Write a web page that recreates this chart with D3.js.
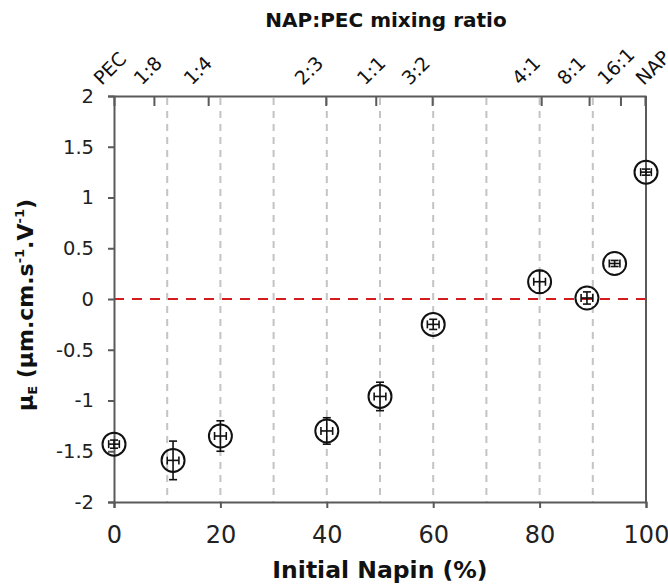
<!DOCTYPE html>
<head>
  <meta charset="utf-8">
  <title>Electrophoretic mobility vs initial napin</title>
  <style>
    body {
      margin: 0;
      padding: 0;
      background-color: #fff;
      font-family: 'DejaVu Sans', sans-serif;
    }

    .axis path, .axis line {
      stroke: #5a5a5a;
      stroke-width: 2;
    }

    .axis text {
      fill: #222;
      font-family: 'DejaVu Sans', sans-serif;
    }

    .grid line {
      stroke: #c4c4c4;
      stroke-width: 2;
      stroke-dasharray: 7 6;
    }

    .zero {
      stroke: #d41c1c;
      stroke-width: 2;
      stroke-dasharray: 10 8;
    }

    .title {
      font-weight: bold;
      fill: #111;
    }

    .ratio {
      font-size: 19px;
      fill: #111;
    }

    .err {
      stroke: #111;
      stroke-width: 1.6;
    }

    .dot {
      fill: none;
      stroke: #111;
      stroke-width: 2;
    }
  </style>
</head>
<body>
  <div id='vis'></div>

  <script src="https://cdnjs.cloudflare.com/ajax/libs/d3/7.8.5/d3.min.js"></script>
  <script>
    // measured points
    var napinPct = [0, 11.1, 20, 40, 50, 60, 80, 88.9, 94.1, 100];
    var mobility = [-1.43, -1.59, -1.35, -1.30, -0.96, -0.25, 0.17, 0.01, 0.35, 1.25];
    var mobilityErr = [0.04, 0.19, 0.15, 0.13, 0.14, 0.05, 0.11, 0.06, 0.03, 0.03];
    var napinErr = [1, 1.1, 1.1, 1.1, 1.1, 1.1, 1.1, 1.1, 1, 1];

    // top (mixing ratio) axis
    var ratioLabels = ['PEC', '1:8', '1:4', '2:3', '1:1', '3:2', '4:1', '8:1', '16:1', 'NAP'];
    var ratioTickAt = [0, 7.5, 17.7, 39.8, 49.2, 59.8, 80.3, 89.3, 95.2, 99.8];
    var ratioLabelAt = [-2.3, 5.2, 14.6, 35.5, 47.2, 55.6, 76.3, 84.8, 92.4, 99.6];

    var xTicks = [0, 20, 40, 60, 80, 100];
    var gridAt = [10, 20, 30, 40, 50, 60, 70, 80, 90];
    var yTicks = [-2, -1.5, -1, -0.5, 0, 0.5, 1, 1.5, 2];

    var width = 668,
        height = 585;

    var svg = d3.select('#vis').append('svg')
      .attr('width', width)
      .attr('height', height);

    var x = d3.scaleLinear().domain([0, 100]).range([114, 646]);
    var y = d3.scaleLinear().domain([-2, 2]).range([502, 96]);

    // grid
    svg.append('g')
      .attr('class', 'grid')
      .selectAll('line')
      .data(gridAt)
      .enter().append('line')
        .attr('x1', function(d) { return x(d); })
        .attr('x2', function(d) { return x(d); })
        .attr('y1', y(2) + 2)
        .attr('y2', y(-2));

    svg.append('line')
      .attr('class', 'zero')
      .attr('x1', x(0))
      .attr('x2', x(100))
      .attr('y1', y(0))
      .attr('y2', y(0));

    // axes
    var fmt = function(d) { return String(d); };

    svg.append('g')
      .attr('class', 'axis')
      .attr('transform', 'translate(0,' + y(-2) + ')')
      .call(d3.axisBottom(x).tickValues(xTicks).tickSize(6).tickPadding(18).tickFormat(fmt))
      .selectAll('text').style('font-size', '24px');

    svg.append('g')
      .attr('class', 'axis')
      .attr('transform', 'translate(' + x(0) + ',0)')
      .call(d3.axisLeft(y).tickValues(yTicks).tickSize(6).tickPadding(14).tickFormat(fmt))
      .selectAll('text').style('font-size', '19.5px');

    svg.append('g')
      .attr('class', 'axis')
      .attr('transform', 'translate(0,' + y(2) + ')')
      .call(d3.axisTop(x).tickValues(ratioTickAt).tickSize(-10).tickSizeOuter(0).tickFormat(''));

    svg.append('line')
      .style('stroke', '#5a5a5a')
      .style('stroke-width', 2)
      .attr('x1', x(100)).attr('x2', x(100))
      .attr('y1', y(2)).attr('y2', y(-2));

    svg.append('g')
      .selectAll('text')
      .data(ratioLabels)
      .enter().append('text')
        .attr('class', 'ratio')
        .attr('transform', function(d, i) {
          return 'translate(' + x(ratioLabelAt[i]) + ',86) rotate(-45)';
        })
        .text(function(d) { return d; });

    // titles
    svg.append('text')
      .attr('class', 'title')
      .attr('x', 386)
      .attr('y', 27)
      .attr('text-anchor', 'middle')
      .style('font-size', '20px')
      .text('NAP:PEC mixing ratio');

    svg.append('text')
      .attr('class', 'title')
      .attr('x', 380)
      .attr('y', 578)
      .attr('text-anchor', 'middle')
      .style('font-size', '23.5px')
      .text('Initial Napin (%)');

    var ylab = svg.append('text')
      .attr('class', 'title')
      .attr('transform', 'translate(33,305) rotate(-90)')
      .attr('text-anchor', 'middle')
      .style('font-size', '22px');
    ylab.append('tspan').text('μ');
    ylab.append('tspan').attr('dy', 4).style('font-size', '13px').text('E');
    ylab.append('tspan').attr('dy', -4).text(' (μm.cm.s');
    ylab.append('tspan').attr('dy', -9).style('font-size', '13px').text('-1');
    ylab.append('tspan').attr('dy', 9).text('.V');
    ylab.append('tspan').attr('dy', -9).style('font-size', '13px').text('-1');
    ylab.append('tspan').attr('dy', 9).text(')');

    // points with error bars
    var pts = napinPct.map(function(p, i) {
      return { x: p, y: mobility[i], ey: mobilityErr[i], ex: napinErr[i] };
    });

    var pt = svg.append('g')
      .selectAll('g')
      .data(pts)
      .enter().append('g');

    var cap = 4;

    pt.append('line').attr('class', 'err')
      .attr('x1', function(d) { return x(d.x); })
      .attr('x2', function(d) { return x(d.x); })
      .attr('y1', function(d) { return y(d.y + d.ey); })
      .attr('y2', function(d) { return y(d.y - d.ey); });
    pt.append('line').attr('class', 'err')
      .attr('x1', function(d) { return x(d.x) - cap; })
      .attr('x2', function(d) { return x(d.x) + cap; })
      .attr('y1', function(d) { return y(d.y + d.ey); })
      .attr('y2', function(d) { return y(d.y + d.ey); });
    pt.append('line').attr('class', 'err')
      .attr('x1', function(d) { return x(d.x) - cap; })
      .attr('x2', function(d) { return x(d.x) + cap; })
      .attr('y1', function(d) { return y(d.y - d.ey); })
      .attr('y2', function(d) { return y(d.y - d.ey); });

    pt.append('line').attr('class', 'err')
      .attr('x1', function(d) { return x(d.x - d.ex); })
      .attr('x2', function(d) { return x(d.x + d.ex); })
      .attr('y1', function(d) { return y(d.y); })
      .attr('y2', function(d) { return y(d.y); });
    pt.append('line').attr('class', 'err')
      .attr('x1', function(d) { return x(d.x - d.ex); })
      .attr('x2', function(d) { return x(d.x - d.ex); })
      .attr('y1', function(d) { return y(d.y) - cap; })
      .attr('y2', function(d) { return y(d.y) + cap; });
    pt.append('line').attr('class', 'err')
      .attr('x1', function(d) { return x(d.x + d.ex); })
      .attr('x2', function(d) { return x(d.x + d.ex); })
      .attr('y1', function(d) { return y(d.y) - cap; })
      .attr('y2', function(d) { return y(d.y) + cap; });

    pt.append('circle')
      .attr('class', 'dot')
      .attr('cx', function(d) { return x(d.x); })
      .attr('cy', function(d) { return y(d.y); })
      .attr('r', 11.5);
  </script>
</body>
